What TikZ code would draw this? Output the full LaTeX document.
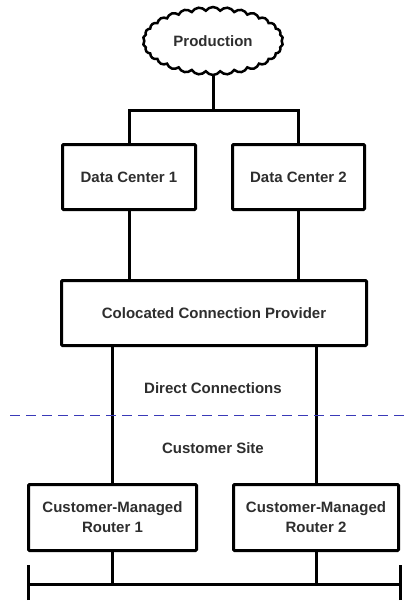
\documentclass[tikz,border=0pt]{standalone}
\usepackage{fontspec}
\setmainfont{Liberation Sans}
\usetikzlibrary{shapes.symbols}
\definecolor{txt}{HTML}{2E2E2E}
\definecolor{dashblue}{HTML}{3A3AB8}
\begin{document}
\begin{tikzpicture}[x=1pt,y=-1pt,
  box/.style={draw=black,line width=3pt,rounded corners=1pt,inner sep=0pt,
    text=txt,font=\fontsize{15}{20}\selectfont\bfseries,align=center},
  conn/.style={draw=black,line width=3pt},
  lbl/.style={text=txt,font=\fontsize{15}{20}\selectfont\bfseries,inner sep=0pt}]
\fill[white] (0,0) rectangle (404,605);
\useasboundingbox (0,0) rectangle (404,605);
\node[cloud,cloud ignores aspect,draw=black,line width=2.5pt,cloud puffs=30,cloud puff arc=110,
  minimum width=140pt,minimum height=68pt,inner sep=0pt,text=txt,
  font=\fontsize{15}{20}\selectfont\bfseries] (cloud) at (213,41) {Production};
\node[box,minimum width=133pt,minimum height=65pt] (dc1) at (129,177) {Data Center 1};
\node[box,minimum width=132pt,minimum height=65pt] (dc2) at (298.5,177) {Data Center 2};
\node[box,minimum width=305pt,minimum height=65pt] (colo) at (214,313) {Colocated Connection Provider};
\node[box,minimum width=168pt,minimum height=66pt] (r1) at (112.5,517.5) {Customer-Managed\\Router 1};
\node[box,minimum width=165pt,minimum height=66pt] (r2) at (316,517.5) {Customer-Managed\\Router 2};
\node[lbl] (dcon) at (213,388) {Direct Connections};
\node[lbl] (csite) at (213,448) {Customer Site};
\coordinate (j) at (213,110);
\coordinate (bl) at (28,584);
\coordinate (br) at (400,584);
\coordinate (dl) at (10,415);
\coordinate (dr) at (404,415);
\draw[conn] (cloud.south) -- (j);
\draw[conn] (dc1.north) |- (j) -| (dc2.north);
\draw[conn] (dc1.south) -- (dc1.south |- colo.north);
\draw[conn] (dc2.south) -- (dc2.south |- colo.north);
\draw[conn] (r1.north) -- (r1.north |- colo.south);
\draw[conn] (r2.north) -- (r2.north |- colo.south);
\draw[conn] (bl) -- (br);
\draw[conn] ([yshift=-16pt]bl) -- ([yshift=19pt]bl);
\draw[conn] ([yshift=-16pt]br) -- ([yshift=19pt]br);
\draw[conn] (r1.south) -- (r1.south |- bl);
\draw[conn] (r2.south) -- (r2.south |- br);
\draw[draw=dashblue,line width=1pt,dash pattern=on 10pt off 6pt] (dl) -- (dr);
\end{tikzpicture}
\end{document}
